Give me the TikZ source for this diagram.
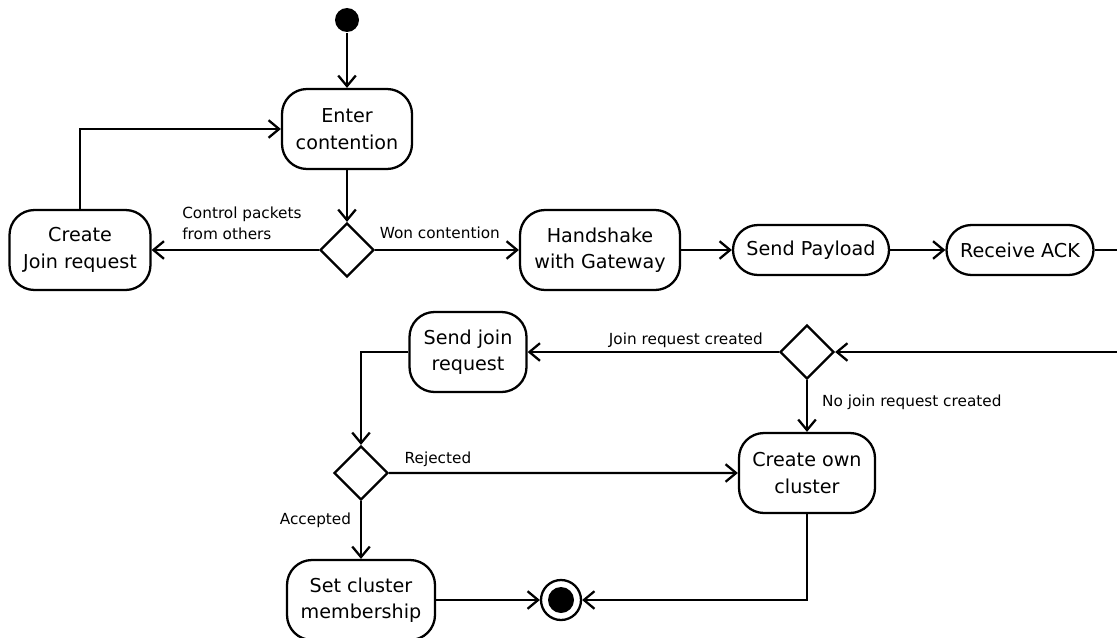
\documentclass[tikz,border=0pt]{standalone}
\usepackage{fontspec}
\setmainfont{DejaVu Sans}
\usetikzlibrary{shapes,arrows.meta}
\usetikzlibrary{positioning}

\tikzset{
  action/.style={draw, rounded corners=0.5cm, line width=1.3pt, align=center,
    minimum height=1.6cm, inner sep=2pt, font=\fontsize{10.9}{15}\selectfont},
  pill/.style={action, minimum height=1cm},
  decision/.style={diamond, draw, line width=1.3pt, minimum size=1.08cm, inner sep=0pt},
  lbl/.style={font=\fontsize{8.7}{12}\selectfont, inner sep=3pt}
}

\begin{document}
\begin{tikzpicture}[on grid, line width=1.3pt, >={Straight Barb[length=6pt,width=10pt]}]
    \clip (0,0) rectangle (22.34,-12.76);

    % upper part: contention and sending
    \node[circle, fill, minimum size=0.48cm, inner sep=0pt] (start) at (6.94,-0.40) {};
    \node[action, minimum width=2.6cm] (enter) [below=2.18cm of start] {Enter\\contention};
    \node[decision] (won) [below=2.42cm of enter] {};
    \node[action, minimum width=2.82cm] (join) [left=5.34cm of won] {Create\\Join request};
    \node[action, minimum width=3.2cm] (hand) [right=5.06cm of won] {Handshake\\with Gateway};
    \node[pill, minimum width=3.12cm] (pay) [right=4.22cm of hand] {Send Payload};
    \node[pill, minimum width=2.94cm] (ack) [right=4.18cm of pay] {Receive ACK};

    % lower part: clustering
    \node[decision] (created) at (16.14,-7.04) {};
    \node[action, minimum width=2.34cm] (sendjoin) [left=6.78cm of created] {Send join\\request};
    \node[action, minimum width=2.72cm] (own) [below=2.42cm of created] {Create own\\cluster};
    \node[decision] (answer) at (7.22,-9.46) {};
    \node[action, minimum width=2.96cm] (member) [below=2.54cm of answer] {Set cluster\\membership};
    \node[circle, draw, minimum size=0.8cm, inner sep=0pt,
      path picture={\fill (path picture bounding box.center) circle (0.26cm);}]
      (stop) [right=4.0cm of member] {};

    % the loop back leaves the page on the right
    \coordinate (back) at (22.8,-7.04);

    \draw[->] (start) -- (enter);
    \draw[->] (enter) -- (won);
    \draw[->] (won) -- node[lbl, above, align=left, pos=0.46, yshift=2pt] {Control packets\\from others} (join);
    \draw[->] (join.north) |- (enter.west);
    \draw[->] (won) -- node[lbl, above, pos=0.45, yshift=3pt] {Won contention} (hand);
    \draw[->] (hand) -- (pay);
    \draw[->] (pay) -- (ack);
    \draw[->] (ack.east) -| (back) -- (created.east);
    \draw[->] (created) -- node[lbl, above, pos=0.37, yshift=-1pt] {Join request created} (sendjoin);
    \draw[->] (created) -- node[lbl, right, pos=0.42, xshift=5pt] {No join request created} (own);
    \draw[->] (sendjoin.west) -| (answer.north);
    \draw[->] (answer) -- node[lbl, above, pos=0.14] {Rejected} (own);
    \draw[->] (answer) -- node[lbl, left, pos=0.33, xshift=-2pt] {Accepted} (member);
    \draw[->] (member) -- (stop);
    \draw[->] (own.south) |- (stop.east);
\end{tikzpicture}
\end{document}
